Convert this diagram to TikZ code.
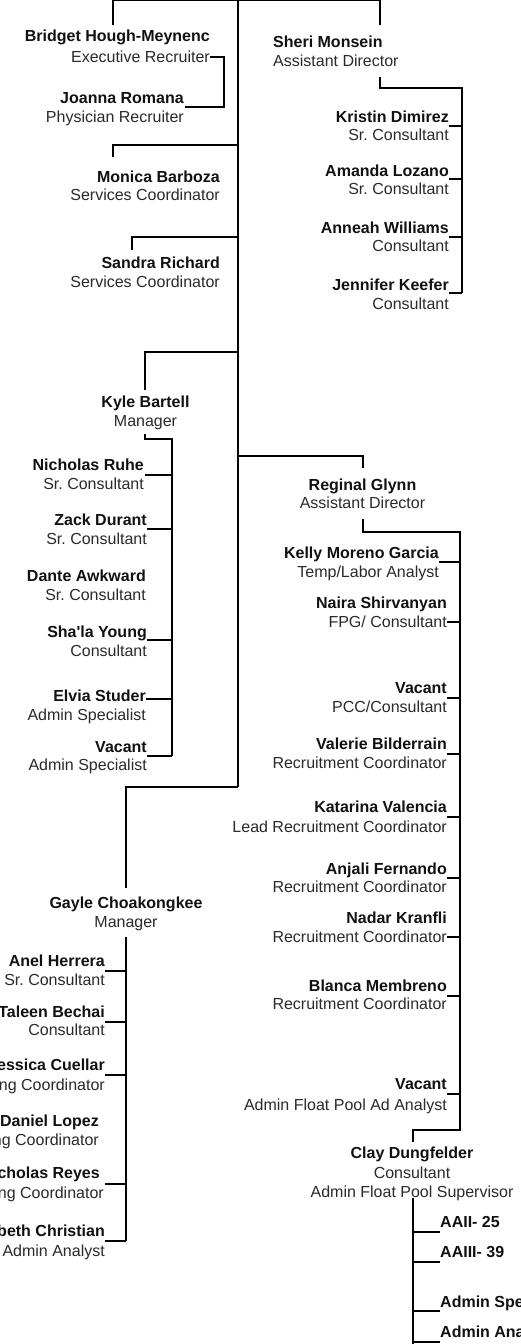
\documentclass[tikz,border=0pt]{standalone}
\usepackage{fontspec}
\setmainfont{Liberation Sans}
\usetikzlibrary{calc}
\frenchspacing
\definecolor{nmc}{HTML}{111111}
\definecolor{ttc}{HTML}{2A2A2A}
% right-aligned person: id, right x, name centre y, title centre y, name, title
\newcommand\personR[6]{%
  \node[nm,anchor=base east] (#1) at (#2,#3+5.5) {#5};
  \node[tt,anchor=base east] (#1t) at (#2,#4+5) {#6};}
\newcommand\personC[6]{%
  \node[nm,anchor=base] (#1) at (#2,#3+5.5) {#5};
  \node[tt,anchor=base] (#1t) at (#2,#4+5) {#6};}
\newcommand\personL[6]{%
  \node[nm,anchor=base west] (#1) at (#2,#3+5.5) {#5};
  \node[tt,anchor=base west] (#1t) at (#2,#4+5) {#6};}
% tick from a node's base east (shifted by dy) to a trunk coordinate
\newcommand\tickR[3]{\draw[ln] (#1.base east) ++(0,#3) coordinate (tmp) -- (tmp -| #2);}
\newcommand\tickL[3]{\draw[ln] (#1.base west) ++(0,#3) coordinate (tmp) -- (tmp -| #2);}
\begin{document}
\begin{tikzpicture}[x=1pt,y=-1pt,
  nm/.style={inner sep=0pt,font=\fontsize{16}{18.5}\selectfont\bfseries\frenchspacing,text=nmc},
  tt/.style={inner sep=0pt,font=\fontsize{16}{18.5}\selectfont\frenchspacing,text=ttc},
  ln/.style={line width=1.3pt,draw=black},
  tk/.style={line width=1.9pt,draw=black}]
\useasboundingbox (0,0) rectangle (521,1344);
\fill[white] (0,0) rectangle (521,1344);
\clip (0,0) rectangle (521,1344);

% trunk coordinates
\coordinate (tS) at (462,0);
\coordinate (tK) at (172,0);
\coordinate (tR) at (460,0);
\coordinate (tG) at (126,0);
\coordinate (tC) at (413,0);
\coordinate (cB) at (224,80);

% ---------- people ----------
\personR{bh}{210}{36}{57}{Bridget Hough-Meynenc}{Executive Recruiter}
\personR{jr}{184}{98}{117}{Joanna Romana}{Physician Recruiter}
\personR{mb}{220}{177}{195}{Monica Barboza}{Services Coordinator}
\personR{sr}{220}{263}{282}{Sandra Richard}{Services Coordinator}
\personL{sm}{273}{42}{61}{Sheri Monsein}{Assistant Director}
\personR{kd}{449}{117}{135}{Kristin Dimirez}{Sr. Consultant}
\personR{al}{449}{171}{189}{Amanda Lozano}{Sr. Consultant}
\personR{aw}{449}{228}{246}{Anneah Williams}{Consultant}
\personR{jk}{449}{285}{304}{Jennifer Keefer}{Consultant}

\personC{kb}{145.5}{402}{421}{Kyle Bartell}{Manager}
\personR{nr}{144}{465}{484}{Nicholas Ruhe}{Sr. Consultant}
\personR{zd}{147}{520}{539}{Zack Durant}{Sr. Consultant}
\personR{da}{146}{576}{595}{Dante Awkward}{Sr. Consultant}
\personR{sy}{147}{632}{651}{Sha\textquotesingle la Young}{Consultant}
\personR{es}{146}{696}{715}{Elvia Studer}{Admin Specialist}
\personR{va}{147}{747}{765}{Vacant}{Admin Specialist}

\personC{rg}{362.5}{485}{503}{Reginal Glynn}{Assistant Director}
\personR{km}{439}{553}{572}{Kelly Moreno Garcia}{Temp/Labor Analyst}
\personR{ns}{447}{603}{622}{Naira Shirvanyan}{FPG/ Consultant}
\personR{vb}{447}{688}{707}{Vacant}{PCC/Consultant}
\personR{vl}{447}{744}{763}{Valerie Bilderrain}{Recruitment Coordinator}
\personR{kv}{447}{807}{827}{Katarina Valencia}{Lead Recruitment Coordinator}
\personR{af}{447}{869}{887}{Anjali Fernando}{Recruitment Coordinator}
\personR{nk}{447}{918}{937}{Nadar Kranfli}{Recruitment Coordinator}
\personR{bm}{447}{986}{1004}{Blanca Membreno}{Recruitment Coordinator}
\personR{vc}{447}{1084}{1105}{Vacant}{Admin Float Pool Ad Analyst}

\personC{gc}{126}{903}{922}{Gayle Choakongkee}{Manager}
\personR{ah}{105}{961}{980}{Anel Herrera}{Sr. Consultant}
\personR{tb}{105}{1012}{1030}{Taleen Bechai}{Consultant}
\personR{jc}{105}{1065}{1085}{Jessica Cuellar}{Onboarding Coordinator}
\personR{dl}{99}{1121}{1140}{Daniel Lopez}{Onboarding Coordinator}
\node[nm,anchor=base east] (nre) at (100,1178.5) {Nicholas Reyes};
\node[tt,anchor=base east] (nret) at (104,1198) {Onboarding Coordinator};
\personR{ec}{105}{1231}{1251}{Elizabeth Christian}{Admin Analyst}

\personC{cd}{412}{1153}{1173}{Clay Dungfelder}{Consultant}
\node[tt,anchor=base] (cdt2) at (412,1197) {Admin Float Pool Supervisor};
\node[nm,anchor=base west] (a1) at (440,1227.5) {AAII- 25};
\node[nm,anchor=base west] (a2) at (440,1257.5) {AAIII- 39};
\node[nm,anchor=base west] (a3) at (440,1307.5) {Admin Specialist};
\node[nm,anchor=base west] (a4) at (440,1337.5) {Admin Analyst};

% ---------- connectors ----------
\draw[tk] (238,-1) -- (238,787);
\draw[ln] (113,25) |- (380,0.8) -- (380,25);
\draw[ln] (238,145) -| (113,157);
\draw[ln] (238,237) -| (132,250);
\draw[ln] (238,352) -| (145,390);
\draw[ln] (238,456) -| (363,468);
\draw[ln] (238,787) -| (126,888);

\draw[ln] (bht.base east) ++(0,-5) -| (cB) |- ($(jr.base east)+(1,3.5)$);

\draw[tk] (380,77) |- (462,88) -- (462,293);
\tickR{kd}{tS}{3.5}
\tickR{al}{tS}{2.5}
\tickR{aw}{tS}{3.5}
\tickR{jk}{tS}{2.5}

\draw[tk] (145,434) |- (172,439) -- (172,756);
\draw[ln] (nr.base east) ++(1,4.5) coordinate (tmp) -- (tmp -| tK);
\tickR{zd}{tK}{3.5}
\tickR{sy}{tK}{2.5}
\tickR{es}{tK}{-2.5}
\tickR{va}{tK}{3.5}

\draw[tk] (363,519) |- (460,532) -- (460,1130) -| (413,1142);
\tickR{km}{tR}{3.5}
\tickR{nst}{tR}{-5}
\tickR{vb}{tR}{4.5}
\tickR{vl}{tR}{4.5}
\tickR{kv}{tR}{4.5}
\tickR{af}{tR}{3.5}
\tickR{nkt}{tR}{-5}
\tickR{bm}{tR}{4.5}
\tickR{vc}{tR}{4.5}

\draw[tk] (126,937) -- (126,1241);
\tickR{ah}{tG}{4.5}
\tickR{tb}{tG}{4.5}
\tickR{jc}{tG}{4.5}
\draw[ln] (nre.base east) ++(5,5.5) coordinate (tmp) -- (tmp -| tG);
\tickR{ec}{tG}{4.5}

\draw[tk] (413,1198) -- (413,1346);
\tickL{a1}{tC}{4.5}
\tickL{a2}{tC}{4.5}
\tickL{a3}{tC}{3.5}
\tickL{a4}{tC}{4.5}
\end{tikzpicture}
\end{document}
